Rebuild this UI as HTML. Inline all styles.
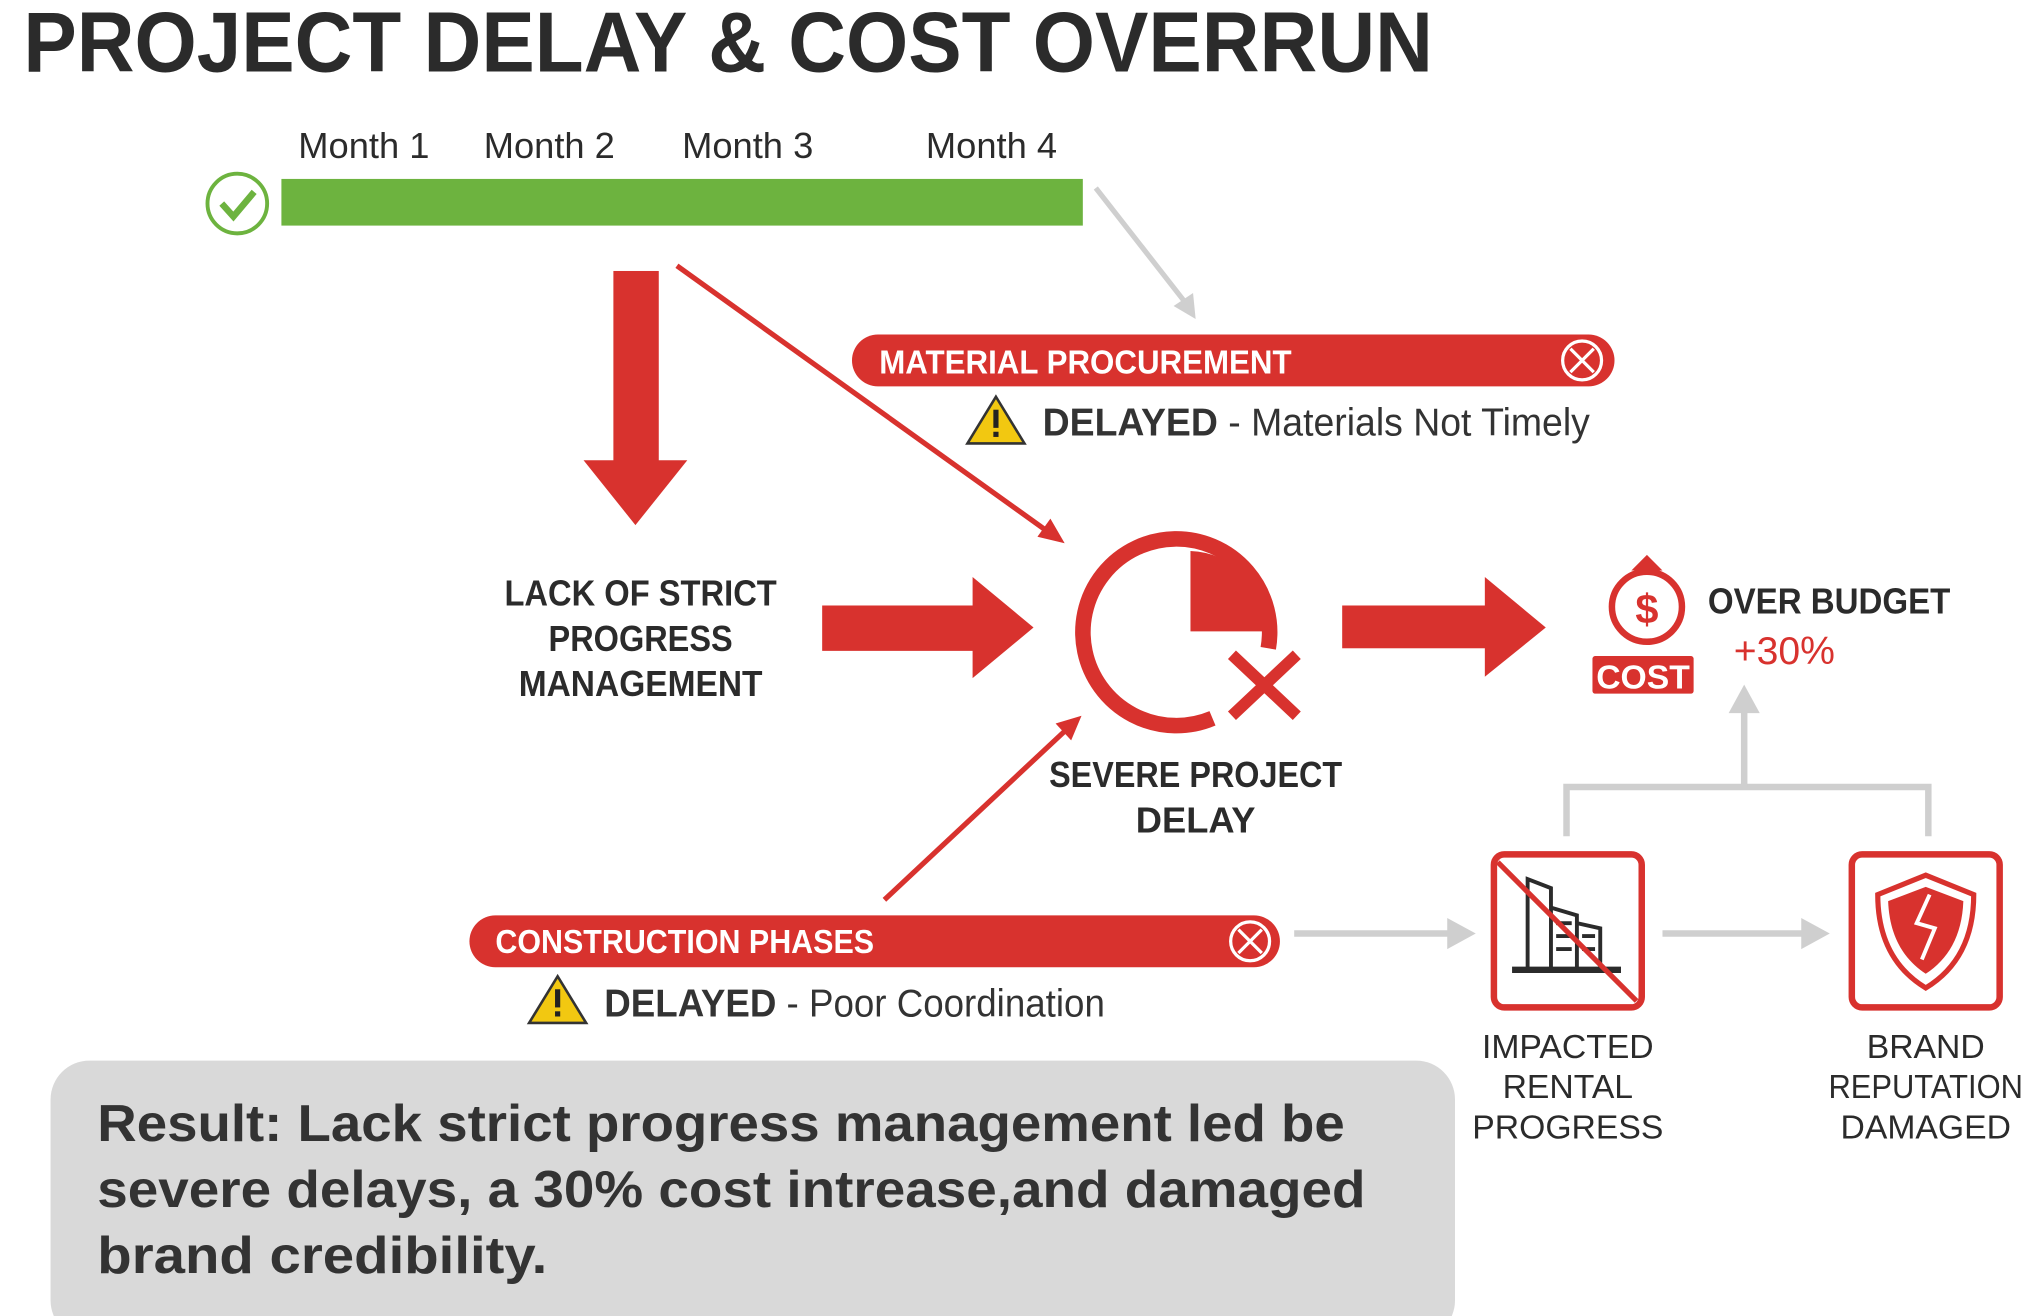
<!DOCTYPE html>
<html><head><meta charset="utf-8"><style>
html,body{margin:0;padding:0;background:#fff;}
svg{display:block;}
text{font-family:"Liberation Sans",sans-serif;}
</style></head><body>
<svg width="2023" height="1316" viewBox="0 0 1560 1015" preserveAspectRatio="none" xmlns="http://www.w3.org/2000/svg">
<defs>
<marker id="ar" markerWidth="8" markerHeight="8" refX="6" refY="4" orient="auto" markerUnits="userSpaceOnUse" viewBox="0 0 8 8"><path d="M0,0 L8,4 L0,8 z" fill="#d8322e"/></marker>
</defs>
<rect width="1560" height="1015" fill="#fff"/>
<text x="18" y="55" font-size="66" font-weight="bold" fill="#2b2b2b" textLength="1087" lengthAdjust="spacingAndGlyphs">PROJECT DELAY &amp; COST OVERRUN</text>

<g font-size="28" fill="#2b2b2b">
<text x="230" y="122">Month 1</text><text x="373" y="122">Month 2</text><text x="526" y="122">Month 3</text><text x="714" y="122">Month 4</text>
</g>
<circle cx="183" cy="157" r="23" fill="#fff" stroke="#6db33f" stroke-width="3"/>
<path d="M171,157 L180,167 L196,148" fill="none" stroke="#6db33f" stroke-width="5"/>
<rect x="217" y="138" width="618" height="36" fill="#6db33f"/>

<line x1="845" y1="145" x2="913" y2="232" stroke="#cfcfcf" stroke-width="4"/>
<path d="M905,236 L922,246 L920,226 z" fill="#cfcfcf"/>

<rect x="473" y="209" width="35" height="148" fill="#d8322e"/>
<path d="M450,355 L530,355 L490,405 z" fill="#d8322e"/>

<line x1="522" y1="205" x2="808" y2="410" stroke="#d8322e" stroke-width="4"/>
<path d="M800,414 L821,419 L810,400 z" fill="#d8322e"/>

<rect x="657" y="258" width="588" height="40" rx="20" fill="#d8322e"/>
<text x="678" y="288" font-size="26" font-weight="bold" fill="#fff" textLength="318" lengthAdjust="spacingAndGlyphs">MATERIAL PROCUREMENT</text>
<circle cx="1220" cy="278" r="15" fill="none" stroke="#fff" stroke-width="2.5"/>
<path d="M1211,269 L1229,287 M1229,269 L1211,287" stroke="#fff" stroke-width="2.5"/>

<path d="M768,306 L790,342 L746,342 z" fill="#f2c811" stroke="#333" stroke-width="2"/>
<rect x="766" y="316" width="4" height="14" fill="#222"/><rect x="766" y="333" width="4" height="4" fill="#222"/>
<text x="804" y="336" font-size="30" fill="#333" textLength="422" lengthAdjust="spacingAndGlyphs"><tspan font-weight="bold">DELAYED</tspan> - Materials Not Timely</text>

<g font-size="28" font-weight="bold" fill="#2b2b2b" text-anchor="middle">
<text x="494" y="467" textLength="210" lengthAdjust="spacingAndGlyphs">LACK OF STRICT</text>
<text x="494" y="502" textLength="142" lengthAdjust="spacingAndGlyphs">PROGRESS</text>
<text x="494" y="537" textLength="188" lengthAdjust="spacingAndGlyphs">MANAGEMENT</text>
</g>

<rect x="634" y="467" width="118" height="35" fill="#d8322e"/>
<path d="M750,445 L797,484 L750,523 z" fill="#d8322e"/>

<path d="M978,500 A72,72 0 1 0 935,554" fill="none" stroke="#d8322e" stroke-width="12"/>
<path d="M918,425 A62,62 0 0 1 978,487 L918,487 z" fill="#d8322e"/>
<path d="M950,505 L1000,552 M1000,505 L950,552" stroke="#d8322e" stroke-width="9"/>

<rect x="1035" y="467" width="112" height="33" fill="#d8322e"/>
<path d="M1145,445 L1192,484 L1145,522 z" fill="#d8322e"/>

<circle cx="1270" cy="468" r="27" fill="none" stroke="#d8322e" stroke-width="5"/>
<path d="M1258,440 L1270,428 L1282,440 z" fill="#d8322e"/>
<text x="1270" y="481" font-size="32" font-weight="bold" fill="#d8322e" text-anchor="middle">$</text>
<rect x="1228" y="506" width="78" height="29" rx="2" fill="#d8322e"/>
<text x="1267" y="531" font-size="26" font-weight="bold" fill="#fff" text-anchor="middle">COST</text>
<text x="1317" y="473" font-size="28" font-weight="bold" fill="#2b2b2b" textLength="187" lengthAdjust="spacingAndGlyphs">OVER BUDGET</text>
<text x="1337" y="512" font-size="30" fill="#d8322e" textLength="78" lengthAdjust="spacingAndGlyphs">+30%</text>

<g stroke="#cfcfcf" stroke-width="5" fill="none">
<path d="M1208,645 L1208,607 L1487,607 L1487,645"/>
<line x1="1345" y1="607" x2="1345" y2="545"/>
</g>
<path d="M1333,550 L1345,528 L1357,550 z" fill="#cfcfcf"/>

<g font-size="28" font-weight="bold" fill="#2b2b2b" text-anchor="middle">
<text x="922" y="607" textLength="226" lengthAdjust="spacingAndGlyphs">SEVERE PROJECT</text>
<text x="922" y="642">DELAY</text>
</g>

<line x1="682" y1="694" x2="822" y2="563" stroke="#d8322e" stroke-width="4"/>
<path d="M814,558 L834,552 L826,571 z" fill="#d8322e"/>

<rect x="362" y="706" width="625" height="40" rx="20" fill="#d8322e"/>
<text x="382" y="735" font-size="26" font-weight="bold" fill="#fff" textLength="292" lengthAdjust="spacingAndGlyphs">CONSTRUCTION PHASES</text>
<circle cx="964" cy="726" r="15" fill="none" stroke="#fff" stroke-width="2.5"/>
<path d="M955,717 L973,735 M973,717 L955,735" stroke="#fff" stroke-width="2.5"/>

<path d="M430,753 L452,789 L408,789 z" fill="#f2c811" stroke="#333" stroke-width="2"/>
<rect x="428" y="763" width="4" height="14" fill="#222"/><rect x="428" y="780" width="4" height="4" fill="#222"/>
<text x="466" y="784" font-size="30" fill="#333" textLength="386" lengthAdjust="spacingAndGlyphs"><tspan font-weight="bold">DELAYED</tspan> - Poor Coordination</text>

<g stroke="#cfcfcf" stroke-width="5"><line x1="998" y1="720" x2="1120" y2="720"/><line x1="1282" y1="720" x2="1393" y2="720"/></g>
<path d="M1116,708 L1138,720 L1116,732 z" fill="#cfcfcf"/>
<path d="M1389,708 L1411,720 L1389,732 z" fill="#cfcfcf"/>

<rect x="1152" y="659" width="114" height="118" rx="8" fill="#fff" stroke="#d8322e" stroke-width="5"/>
<g fill="none" stroke="#2b2b2b" stroke-width="3">
<path d="M1178,746 L1178,678 L1196,685 L1196,746"/>
<path d="M1196,700 L1216,706 L1216,746"/>
<path d="M1216,712 L1234,716 L1234,746"/>
<line x1="1166" y1="748" x2="1250" y2="748" stroke-width="5"/>
<path d="M1200,712 h12 M1200,722 h12 M1200,732 h12 M1220,722 h10 M1220,732 h10"/>
</g>
<line x1="1155" y1="665" x2="1262" y2="772" stroke="#d8322e" stroke-width="4"/>

<rect x="1428" y="659" width="114" height="118" rx="8" fill="#fff" stroke="#d8322e" stroke-width="5"/>
<path d="M1485,675 L1522,690 C1522,725 1508,748 1485,762 C1462,748 1448,725 1448,690 z" fill="#fff" stroke="#d8322e" stroke-width="4"/>
<path d="M1485,684 L1514,695 C1513,722 1502,740 1485,751 C1468,740 1457,722 1456,695 z" fill="#d8322e"/>
<path d="M1488,690 L1478,712 L1492,716 L1482,740" fill="none" stroke="#fff" stroke-width="3"/>

<g font-size="26" fill="#2b2b2b" text-anchor="middle">
<text x="1209" y="816">IMPACTED</text><text x="1209" y="847">RENTAL</text><text x="1209" y="878">PROGRESS</text>
<text x="1485" y="816">BRAND</text><text x="1485" y="847" textLength="150" lengthAdjust="spacingAndGlyphs">REPUTATION</text><text x="1485" y="878">DAMAGED</text>
</g>

<rect x="39" y="818" width="1083" height="215" rx="30" fill="#d9d9d9"/>
<g font-size="40" font-weight="bold" fill="#333">
<text x="75" y="880" textLength="962" lengthAdjust="spacingAndGlyphs">Result: Lack strict progress management led be</text>
<text x="75" y="931" textLength="978" lengthAdjust="spacingAndGlyphs">severe delays, a 30% cost intrease,and damaged</text>
<text x="75" y="982" textLength="347" lengthAdjust="spacingAndGlyphs">brand credibility.</text>
</g>
</svg>
</body></html>
